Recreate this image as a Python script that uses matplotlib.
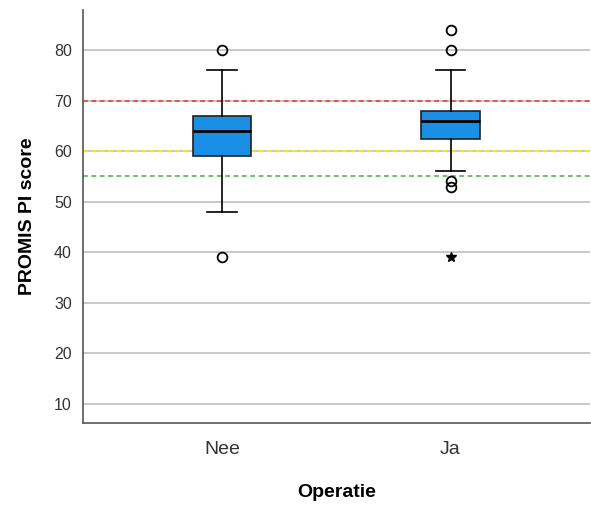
import matplotlib
matplotlib.use("Agg")
import matplotlib.pyplot as plt

plt.rcParams["font.family"] = ["Liberation Sans", "DejaVu Sans"]

# Boxplot statistics per group
groepen = ["Nee", "Ja"]
mediaan = [64, 66]
q1 = [59, 62.5]
q3 = [67, 68]
whisker_laag = [48, 56]
whisker_hoog = [76, 76]
uitschieters = [[80, 39], [84, 80, 54, 53]]
extremen = [[], [39]]

# Reference lines
ref_waarden = [70, 60, 55]
ref_kleuren = ["#e8534f", "#eaea20", "#6cc06c"]

stats = []
for i, g in enumerate(groepen):
    stats.append({"label": g, "med": mediaan[i], "q1": q1[i], "q3": q3[i],
                  "whislo": whisker_laag[i], "whishi": whisker_hoog[i],
                  "fliers": uitschieters[i]})

fig = plt.figure(figsize=(5.91, 5.08), dpi=100)
ax = fig.add_axes([0.1404, 0.1673, 0.8576, 0.8127])

ax.set_yticks(range(10, 90, 10))
ax.yaxis.grid(True, color="#c4c4c4", linewidth=1.3)
ax.set_axisbelow(True)

for v, c in zip(ref_waarden, ref_kleuren):
    ax.axhline(v, color=c, linestyle=(0, (2.5, 1.8)), linewidth=1.4, zorder=1.5)

ax.bxp(stats, positions=[1, 2], widths=0.255, patch_artist=True,
       boxprops=dict(facecolor="#1a8fe6", edgecolor="#202020", linewidth=1.2),
       medianprops=dict(color="black", linewidth=2),
       whiskerprops=dict(color="black", linewidth=1.2),
       capprops=dict(color="black", linewidth=1.2),
       capwidths=0.13,
       flierprops=dict(marker="o", markerfacecolor="none", markeredgecolor="black",
                       markersize=7, markeredgewidth=1.3),
       zorder=3)

for i, e in enumerate(extremen):
    if e:
        ax.plot([i + 1] * len(e), e, linestyle="none", marker="*", color="black",
                markersize=7, zorder=4)

ax.set_xlim(0.39, 2.61)
ax.set_ylim(6.2, 87.9)
ax.set_xticks([1, 2])
ax.set_xticklabels(groepen, fontsize=14, color="#333333")
ax.tick_params(axis="y", labelsize=11.5, colors="#333333", length=0, pad=8)
ax.tick_params(axis="x", length=0, pad=13)
for s in ["top", "right"]:
    ax.spines[s].set_visible(False)
for s in ["left", "bottom"]:
    ax.spines[s].set_color("#555555")
    ax.spines[s].set_linewidth(1.2)

ax.set_xlabel("Operatie", fontsize=14, fontweight="bold", labelpad=19)
ax.set_ylabel("PROMIS PI score", fontsize=14, fontweight="bold", labelpad=13)

fig.savefig("out.png", dpi=100)
